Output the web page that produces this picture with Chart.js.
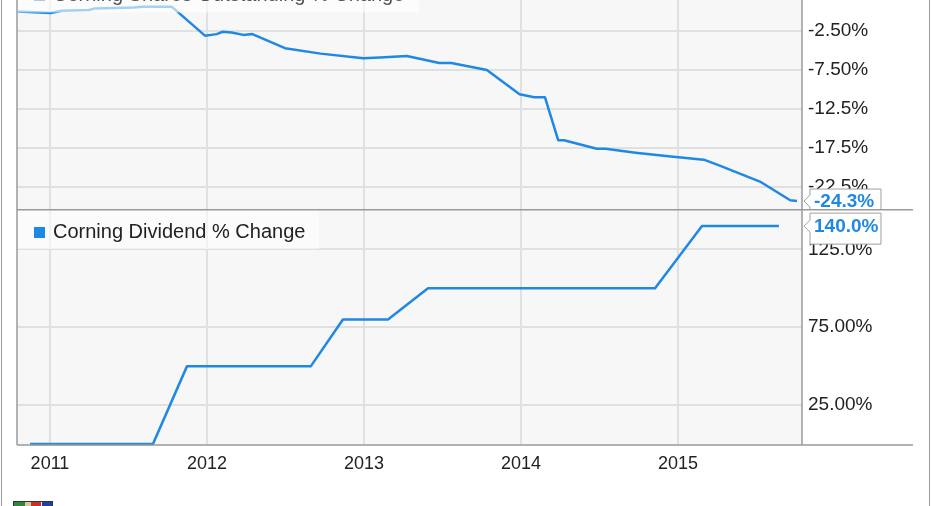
<!DOCTYPE html>
<html>
<head>
<meta charset="utf-8">
<script src="https://cdn.jsdelivr.net/npm/chart.js@4"></script>
<style>
  html, body { margin: 0; padding: 0; background: #fff; }
  #wrap { position: relative; width: 931px; height: 506px; overflow: hidden; background: #fff; }
  #top { position: absolute; left: 0; top: 0; }
  #bot { position: absolute; left: 0; top: 209px; }
  .frame { position: absolute; top: 0; width: 1px; height: 506px; background: #9a9a9a; }
  #logo { position: absolute; left: 13px; top: 501px; width: 38px; height: 8px; border: 1px solid #333;
          background: linear-gradient(90deg, #2a8a3a 0 30%, #d8c8a0 30% 45%, #c83030 45% 70%, #fff 70% 75%, #2040a0 75% 100%); }
</style>
</head>
<body>
<div id="wrap">
  <canvas id="top" width="931" height="209"></canvas>
  <canvas id="bot" width="931" height="297"></canvas>
  <div class="frame" style="left:1px"></div>
  <div class="frame" style="left:929px"></div>
  <div id="logo"></div>
</div>
<script>
// ---------- data ----------
const yearTicks = [2011, 2012, 2013, 2014, 2015];
const yearLabels = ['2011', '2012', '2013', '2014', '2015'];

const shareSeriesName = 'Corning Shares Outstanding % Change';
const shareDates = [2010.795, 2011.003, 2011.076, 2011.248, 2011.287, 2011.532, 2011.589, 2011.777,
  2011.987, 2012.062, 2012.100, 2012.157, 2012.232, 2012.289, 2012.497, 2012.724, 2012.996, 2013.102,
  2013.273, 2013.480, 2013.556, 2013.783, 2013.991, 2014.085, 2014.153, 2014.237, 2014.274, 2014.483,
  2014.539, 2014.729, 2014.955, 2015.164, 2015.258, 2015.522, 2015.715, 2015.758];
const shareChange = [0.0, -0.2, 0.1, 0.2, 0.4, 0.5, 0.6, 0.6,
  -3.1, -2.9, -2.6, -2.7, -3.0, -2.9, -4.7, -5.4, -6.0, -5.9,
  -5.7, -6.6, -6.6, -7.5, -10.6, -11.0, -11.0, -16.5, -16.5, -17.6,
  -17.6, -18.1, -18.6, -19.0, -19.7, -21.8, -24.2, -24.3];
const shareTicks = [-2.5, -7.5, -12.5, -17.5, -22.5];
const shareTickLabels = ['-2.50%', '-7.50%', '-12.5%', '-17.5%', '-22.5%'];
const shareLastLabel = '-24.3%';

const divSeriesName = 'Corning Dividend % Change';
const divDates = [2010.873, 2011.656, 2011.873, 2012.662, 2012.866, 2013.153, 2013.408, 2014.854, 2015.153, 2015.643];
const divChange = [0, 0, 50, 50, 80, 80, 100, 100, 140, 140];
const divTicks = [25, 75, 125];
const divTickLabels = ['25.00%', '75.00%', '125.0%'];
const divLastLabel = '140.0%';

// ---------- style ----------
const LINE = '#1f88e5';
const GRID = '#e0e0e0';
const AXIS = '#9a9a9a';
const FONT = "'Liberation Sans', Arial, sans-serif";
const X_MIN = 2010.79, X_MAX = 2015.79;

function pts(xs, ys) { return xs.map((x, i) => ({ x: x, y: ys[i] })); }

const bgPlugin = {
  id: 'bg',
  beforeDraw(chart) {
    const { ctx, chartArea: a } = chart;
    ctx.save();
    ctx.fillStyle = '#f7f7f7';
    ctx.fillRect(a.left, a.top, a.right - a.left, a.bottom - a.top);
    ctx.restore();
  }
};

function legendPlugin(name, boxTop, boxBottom, boxRight, baseline, sqTop, bg, textColor, sqColor) {
  return {
    id: 'lg',
    afterDatasetsDraw(chart) {
      const { ctx, chartArea: a } = chart;
      ctx.save();
      ctx.fillStyle = bg;
      ctx.fillRect(a.left, boxTop, boxRight - a.left, boxBottom - boxTop);
      ctx.fillStyle = sqColor;
      ctx.fillRect(34, sqTop, 11, 11);
      ctx.fillStyle = textColor;
      ctx.font = '20px ' + FONT;
      ctx.textBaseline = 'alphabetic';
      ctx.textAlign = 'left';
      ctx.fillText(name, 53, baseline);
      ctx.restore();
    }
  };
}

function endLabelPlugin(text, above, below) {
  return {
    id: 'endlab',
    afterDraw(chart) {
      const { ctx } = chart;
      const ds = chart.data.datasets[0].data;
      const last = ds[ds.length - 1];
      const y = chart.scales.y.getPixelForValue(last.y);
      const x0 = chart.chartArea.right + 8, x1 = x0 + 71;
      ctx.save();
      ctx.beginPath();
      ctx.moveTo(x0, y - above);
      ctx.lineTo(x1, y - above);
      ctx.lineTo(x1, y + below);
      ctx.lineTo(x0, y + below);
      ctx.lineTo(x0, y + 6);
      ctx.lineTo(x0 - 6, y);
      ctx.lineTo(x0, y - 6);
      ctx.closePath();
      ctx.fillStyle = '#fff';
      ctx.fill();
      ctx.strokeStyle = '#a0a0a0';
      ctx.lineWidth = 1;
      ctx.stroke();
      ctx.fillStyle = LINE;
      ctx.font = 'bold 19px ' + FONT;
      ctx.textBaseline = 'middle';
      ctx.textAlign = 'left';
      ctx.fillText(text, x0 + 4, y + 1);
      ctx.restore();
    }
  };
}

function framePlugin(isBottom) {
  return {
    id: 'frame',
    afterDraw(chart) {
      const { ctx, chartArea: a } = chart;
      ctx.save();
      ctx.strokeStyle = AXIS;
      ctx.lineWidth = 1.5;
      ctx.beginPath();
      ctx.moveTo(a.left, a.top); ctx.lineTo(a.left, a.bottom);
      ctx.moveTo(a.right, a.top); ctx.lineTo(a.right, a.bottom);
      if (isBottom) {
        ctx.moveTo(a.left, a.bottom); ctx.lineTo(913, a.bottom);
        ctx.moveTo(a.left, 0.75); ctx.lineTo(913, 0.75);
      }
      ctx.stroke();
      ctx.restore();
    }
  };
}

function zeroPad(s) { s.paddingTop = 0; s.paddingBottom = 0; s.paddingLeft = 0; s.paddingRight = 0; }

function xScale(showLabels) {
  return {
    type: 'linear', min: X_MIN, max: X_MAX,
    afterBuildTicks: (ax) => { ax.ticks = yearTicks.map(v => ({ value: v })); },
    grid: { color: GRID, lineWidth: 2, drawTicks: false },
    border: { display: false },
    ticks: {
      display: showLabels, padding: 8, color: '#222',
      font: { family: FONT, size: 18 },
      maxRotation: 0,
      callback: (v) => yearLabels[yearTicks.indexOf(v)] ?? ''
    },
    afterFit: (s) => { s.height = showLabels ? 61 : 0; zeroPad(s); }
  };
}

function yScale(min, max, ticks, labels) {
  return {
    position: 'right', min: min, max: max,
    afterBuildTicks: (ax) => { ax.ticks = ticks.map(v => ({ value: v })); },
    grid: { color: GRID, lineWidth: 2, drawTicks: false },
    border: { display: false },
    ticks: {
      padding: 6, color: '#222', crossAlign: 'near',
      font: { family: FONT, size: 19 },
      callback: (v) => labels[ticks.indexOf(v)] ?? ''
    },
    afterFit: (s) => { s.width = 111; zeroPad(s); }
  };
}

const common = {
  responsive: false,
  animation: false,
  events: [],
  plugins: { legend: { display: false }, tooltip: { enabled: false } },
  layout: { padding: { left: 17, right: 18, top: 0, bottom: 0 } }
};

new Chart(document.getElementById('top'), {
  type: 'line',
  data: { datasets: [{
    label: shareSeriesName, data: pts(shareDates, shareChange),
    borderColor: LINE, borderWidth: 2.5, pointRadius: 0, tension: 0, borderJoinStyle: 'round', clip: 4
  }] },
  options: Object.assign({}, common, {
    scales: { x: xScale(false), y: yScale(-25.32, 1.474, shareTicks, shareTickLabels) }
  }),
  plugins: [bgPlugin,
    legendPlugin(shareSeriesName, -27, 12.5, 419, 0.5, -10, 'rgba(255,255,255,0.6)', '#555', '#9fcdf5'),
    framePlugin(false), endLabelPlugin(shareLastLabel, 12, 16)]
});

new Chart(document.getElementById('bot'), {
  type: 'line',
  data: { datasets: [{
    label: divSeriesName, data: pts(divDates, divChange),
    borderColor: LINE, borderWidth: 2.5, pointRadius: 0, tension: 0, borderJoinStyle: 'round', clip: 4
  }] },
  options: Object.assign({}, common, {
    scales: { x: xScale(true), y: yScale(-0.7, 151, divTicks, divTickLabels) }
  }),
  plugins: [bgPlugin,
    legendPlugin(divSeriesName, 1, 40, 319, 28.5, 18, 'rgba(255,255,255,0.55)', '#222', LINE),
    framePlugin(true), endLabelPlugin(divLastLabel, 13, 18)]
});
</script>
</body>
</html>
